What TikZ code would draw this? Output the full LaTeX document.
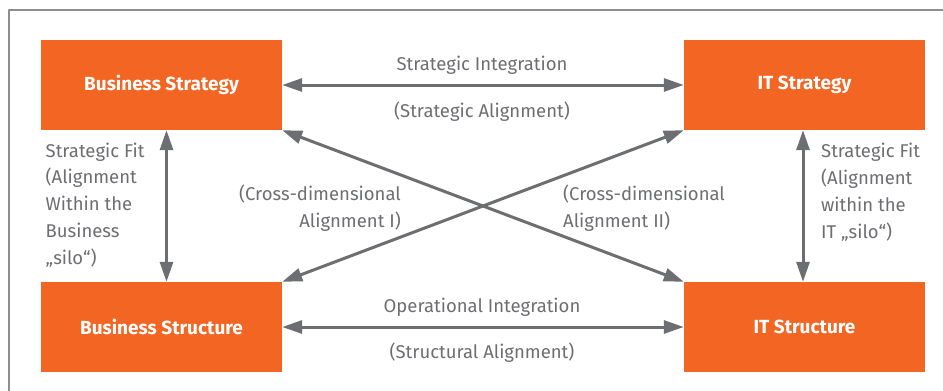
\documentclass[tikz,border=0pt]{standalone}
\usepackage{fontspec}
\setmainfont{Fira Sans}
\usetikzlibrary{arrows.meta}
\definecolor{boxorange}{HTML}{F26522}
\definecolor{linkgray}{HTML}{6D6E71}
\definecolor{framegray}{HTML}{8E8E8E}

\begin{document}
\begin{tikzpicture}[x=1pt, y=-1pt, line join=round,
		font=\fontsize{18.5}{26.7}\selectfont,
		>={Triangle[length=20pt,width=13pt]},
		box/.style={fill=boxorange, text=white, font=\fontsize{19}{22}\selectfont\bfseries,
			minimum width=241pt, minimum height=90pt, inner sep=0pt},
		link/.style={<->, draw=linkgray, fill=linkgray, line width=3pt},
		lbl/.style={text=linkgray, inner sep=0pt}]
	\useasboundingbox (0,0) rectangle (943,391);
	% frame, only the top and left edges are visible
	\draw[framegray, line width=1.5pt] (9,391) -- (9,10) -- (943,10);
	% the four domains
	\node[box] (BStrat) at (161.5,85) {Business Strategy};
	\node[box] (ITStrat) at (804.5,85) {IT Strategy};
	\node[box] (BStruct) at (161.5,327) {Business Structure};
	\node[box] (ITStruct) at (804.5,327) {IT Structure};
	% alignments
	\draw[link] (BStrat.east) -- (ITStrat.west);
	\draw[link] (BStruct.east) -- (ITStruct.west);
	\draw[link] ([xshift=5pt]BStrat.south) -- ([xshift=5pt]BStruct.north);
	\draw[link] ([xshift=-1.5pt]ITStrat.south) -- ([xshift=-1.5pt]ITStruct.north);
	\draw[link] (BStrat.south east) -- (ITStruct.north west);
	\draw[link] (ITStrat.south west) -- (BStruct.north east);
	% labels (multi-line ones sit on the baseline of their last line)
	\node[lbl, anchor=base] (si) at (482,70) {Strategic Integration};
	\node[lbl, anchor=base] (sa) at (482,117) {(Strategic Alignment)};
	\node[lbl, anchor=base] (oi) at (482,312) {Operational Integration};
	\node[lbl, anchor=base] (sta) at (482,358) {(Structural Alignment)};
	\node[lbl, anchor=base west, align=left] (fitB) at (45.5,264) {Strategic Fit\\(Alignment\\Within the\\Business\\„silo“)};
	\node[lbl, anchor=base west, align=left] (fitIT) at (821,238) {Strategic Fit\\(Alignment\\within the\\IT „silo“)};
	\node[lbl, anchor=base east, align=right] (cross1) at (401,227) {(Cross-dimensional\\Alignment I)};
	\node[lbl, anchor=base west, align=left] (cross2) at (563,227) {(Cross-dimensional\\Alignment II)};
\end{tikzpicture}
\end{document}
